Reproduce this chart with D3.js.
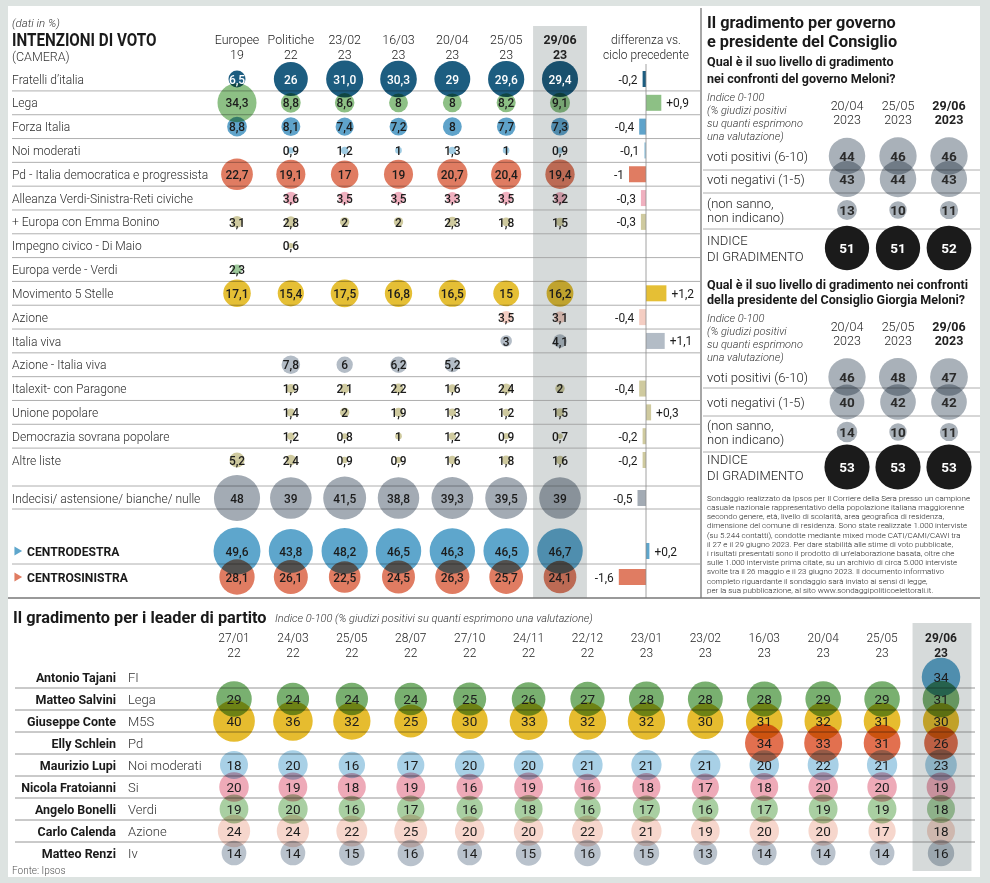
<!DOCTYPE html>
<html lang="it">
<head>
<meta charset="UTF-8">
<title>Intenzioni di voto</title>
<style>
  body { margin: 0; background: #dde3e1; }
  svg { display: block; }
  .mul { mix-blend-mode: multiply; }
</style>
<script src="https://d3js.org/d3.v7.min.js"></script>
</head>
<body>
<svg width="990" height="883"></svg>
<script>
// ---- dati: intenzioni di voto ----
const topCols = ["Europee 19", "Politiche 22", "23/02 23", "16/03 23", "20/04 23", "25/05 23", "29/06 23"];
const parties = ["Fratelli d’italia", "Lega", "Forza Italia", "Noi moderati",
  "Pd - Italia democratica e progressista", "Alleanza Verdi-Sinistra-Reti civiche",
  "+ Europa con Emma Bonino", "Impegno civico - Di Maio", "Europa verde - Verdi",
  "Movimento 5 Stelle", "Azione", "Italia viva", "Azione - Italia viva",
  "Italexit- con Paragone", "Unione popolare", "Democrazia  sovrana popolare", "Altre liste"];
const partyVals = [
  ["6,5", "26", "31,0", "30,3", "29", "29,6", "29,4"],
  ["34,3", "8,8", "8,6", "8", "8", "8,2", "9,1"],
  ["8,8", "8,1", "7,4", "7,2", "8", "7,7", "7,3"],
  [null, "0,9", "1,2", "1", "1,3", "1", "0,9"],
  ["22,7", "19,1", "17", "19", "20,7", "20,4", "19,4"],
  [null, "3,6", "3,5", "3,5", "3,3", "3,5", "3,2"],
  ["3,1", "2,8", "2", "2", "2,3", "1,8", "1,5"],
  [null, "0,6", null, null, null, null, null],
  ["2,3", null, null, null, null, null, null],
  ["17,1", "15,4", "17,5", "16,8", "16,5", "15", "16,2"],
  [null, null, null, null, null, "3,5", "3,1"],
  [null, null, null, null, null, "3", "4,1"],
  [null, "7,8", "6", "6,2", "5,2", null, null],
  [null, "1,9", "2,1", "2,2", "1,6", "2,4", "2"],
  [null, "1,4", "2", "1,9", "1,3", "1,2", "1,5"],
  [null, "1,2", "0,8", "1", "1,2", "0,9", "0,7"],
  ["5,2", "2,4", "0,9", "0,9", "1,6", "1,8", "1,6"]
];
const partyDiff = ["-0,2", "+0,9", "-0,4", "-0,1", "-1", "-0,3", "-0,3", null, null,
  "+1,2", "-0,4", "+1,1", null, "-0,4", "+0,3", "-0,2", "-0,2"];
const sumRows = ["Indecisi/ astensione/ bianche/ nulle", "CENTRODESTRA", "CENTROSINISTRA"];
const sumVals = [
  ["48", "39", "41,5", "38,8", "39,3", "39,5", "39"],
  ["49,6", "43,8", "48,2", "46,5", "46,3", "46,5", "46,7"],
  ["28,1", "26,1", "22,5", "24,5", "26,3", "25,7", "24,1"]
];
const sumDiff = ["-0,5", "+0,2", "-1,6"];

// ---- dati: gradimento governo / presidente ----
const govCols = ["20/04 2023", "25/05 2023", "29/06 2023"];
const govPos = [44, 46, 46], govNeg = [43, 44, 43], govNs = [13, 10, 11], govIdx = [51, 51, 52];
const melPos = [46, 48, 47], melNeg = [40, 42, 42], melNs = [14, 10, 11], melIdx = [53, 53, 53];

// ---- dati: leader ----
const botCols = ["27/01 22", "24/03 22", "25/05 22", "28/07 22", "27/10 22", "24/11 22", "22/12 22",
  "23/01 23", "23/02 23", "16/03 23", "20/04 23", "25/05 23", "29/06 23"];
const leaders = ["Antonio Tajani", "Matteo Salvini", "Giuseppe Conte", "Elly Schlein", "Maurizio Lupi",
  "Nicola Fratoianni", "Angelo Bonelli", "Carlo Calenda", "Matteo Renzi"];
const leaderParty = ["FI", "Lega", "M5S", "Pd", "Noi moderati", "Si", "Verdi", "Azione", "Iv"];
const leaderVals = [
  [null, null, null, null, null, null, null, null, null, null, null, null, 34],
  [29, 24, 24, 24, 25, 26, 27, 28, 28, 28, 29, 29, 31],
  [40, 36, 32, 25, 30, 33, 32, 32, 30, 31, 32, 31, 30],
  [null, null, null, null, null, null, null, null, null, 34, 33, 31, 26],
  [18, 20, 16, 17, 20, 20, 21, 21, 21, 20, 22, 21, 23],
  [20, 19, 18, 19, 16, 19, 16, 18, 17, 18, 20, 20, 19],
  [19, 20, 16, 17, 16, 18, 16, 17, 16, 17, 19, 19, 18],
  [24, 24, 22, 25, 20, 20, 22, 21, 19, 20, 20, 17, 18],
  [14, 14, 15, 16, 14, 15, 16, 15, 13, 14, 14, 14, 16]
];

const noteLines = [
  "Sondaggio realizzato da Ipsos per Il Corriere della Sera presso un campione",
  "casuale nazionale rappresentativo della popolazione italiana maggiorenne",
  "secondo genere, età, livello di scolarità, area geografica di residenza,",
  "dimensione del comune di residenza. Sono state realizzate 1.000 interviste",
  "(su 5.244 contatti), condotte mediante mixed mode CATI/CAMI/CAWI tra",
  "il 27 e il 29 giugno 2023. Per dare stabilità alle stime di voto pubblicate,",
  "i risultati presentati sono il prodotto di un'elaborazione basata, oltre che",
  "sulle 1.000 interviste prima citate, su un archivio di circa 5.000 interviste",
  "svolte tra il 26 maggio e il 23 giugno 2023. Il documento informativo",
  "completo riguardante il sondaggio sarà inviato ai sensi di legge,",
  "per la sua pubblicazione, al sito www.sondaggipoliticoelettorali.it."
];

// colori
const partyColors = ["#1d5d80", "#8dc085", "#5fa3ca", "#9fcbe2", "#e07c62", "#f0b0bf", "#cfca9f",
  "#cfca9f", "#9dc89a", "#e5bf35", "#f4cdc2", "#b3bcc6", "#b3bcc6", "#cfca9f", "#cfca9f", "#cfca9f", "#cfca9f"];
const sumColors = ["#a3abb4", "#5ea6cc", "#e07c62"];
const leaderColors = ["#5ea6cc", "#79b070", "#e6bc2f", "#e2704f", "#a8d0e6", "#eeaab8", "#a9cfa2", "#f6d6cc", "#b9c2cc"];
const BAND = "#d6dada", LINE = "#9a9a9a";
const F = "Roboto, 'Open Sans', sans-serif";

const num = s => +String(s).replace(",", ".");

const svg = d3.select("svg");
svg.append("rect").attr("width", 990).attr("height", 883).attr("fill", "#dde3e1");
svg.append("rect").attr("x", 8).attr("y", 6).attr("width", 972).attr("height", 871).attr("fill", "#fff");

function label(g, x, y, s, o = {}) {
  return g.append("text")
    .attr("transform", `translate(${x},${y}) scale(${o.sx || 1},1)`)
    .attr("text-anchor", o.anchor || "start")
    .attr("dy", "0.35em")
    .attr("font-family", F)
    .attr("font-size", o.size || 13)
    .attr("font-weight", o.weight || 400)
    .attr("font-style", o.italic ? "italic" : null)
    .attr("fill", o.fill || "#222")
    .text(s);
}

// ================= INTENZIONI DI VOTO =================
const gT = svg.append("g");
const xTop = d3.scalePoint().domain(topCols).range([237, 560]);
const yMain = d3.scalePoint().domain(parties).range([79, 460]);
const ySum = d3.scaleOrdinal().domain(sumRows).range([498, 551, 577]);
const yRow = r => parties.includes(r) ? yMain(r) : ySum(r);
const rTop = d3.scaleSqrt().domain([0, 50]).range([0, 3.33 * Math.sqrt(50)]);
const xDiff = d3.scaleLinear().domain([-2, 2]).range([646 - 34, 646 + 34]);

// banda colonna corrente
gT.append("rect")
  .attr("x", xTop(topCols[6]) - xTop.step() / 2).attr("width", xTop.step())
  .attr("y", 26).attr("height", 572).attr("fill", BAND);

// linee di separazione
const sepY = d3.range(parties.length - 1).map(i => (yMain(parties[i]) + yMain(parties[i + 1])) / 2)
  .concat([ySum(sumRows[0]) - 12, ySum(sumRows[0]) + 11, (ySum(sumRows[1]) + ySum(sumRows[2])) / 2]);
gT.selectAll("line.sep").data(sepY).join("line")
  .attr("x1", 12).attr("x2", 700).attr("y1", d => d).attr("y2", d => d)
  .attr("stroke", LINE).attr("stroke-width", 0.8);

// intestazioni
label(gT, 12, 23, "(dati in %)", { size: 11.5, italic: true, weight: 300, fill: "#333" });
label(gT, 12, 40, "INTENZIONI DI VOTO", { size: 17.5, weight: 700, sx: 0.87, fill: "#1a1a1a" });
label(gT, 12, 57, "(CAMERA)", { size: 12.5, weight: 300, fill: "#333" });
topCols.forEach((c, j) => {
  const [a, b] = c.split(" ");
  const bold = j === topCols.length - 1;
  label(gT, xTop(c), 39, a, { anchor: "middle", size: 13.5, weight: bold ? 700 : 300, sx: 0.92, fill: "#222" });
  label(gT, xTop(c), 54, b, { anchor: "middle", size: 13.5, weight: bold ? 700 : 300, sx: 0.92, fill: "#222" });
});
label(gT, 646, 39, "differenza vs.", { anchor: "middle", size: 13, weight: 300, sx: 0.92 });
label(gT, 646, 54, "ciclo precedente", { anchor: "middle", size: 13, weight: 300, sx: 0.92 });

// etichette righe
parties.forEach(p => label(gT, 12, yMain(p), p, { size: 13, weight: 300, sx: 0.93, fill: "#2a2a2a" }));
label(gT, 12, ySum(sumRows[0]), sumRows[0], { size: 13, weight: 300, sx: 0.93, fill: "#2a2a2a" });
[1, 2].forEach(i => {
  label(gT, 27, ySum(sumRows[i]), sumRows[i], { size: 13.5, weight: 700, sx: 0.9, fill: "#1a1a1a" });
  gT.append("path")
    .attr("d", d3.symbol(d3.symbolTriangle, 34)())
    .attr("transform", `translate(17,${ySum(sumRows[i])}) rotate(90)`)
    .attr("fill", sumColors[i]);
});

// bolle
const cells = [];
parties.forEach((p, i) => partyVals[i].forEach((v, j) => {
  if (v != null) cells.push({ row: p, col: topCols[j], s: v, v: num(v), c: partyColors[i], w: i === 0 });
}));
sumRows.forEach((p, i) => sumVals[i].forEach((v, j) => {
  cells.push({ row: p, col: topCols[j], s: v, v: num(v), c: sumColors[i], w: false });
}));
gT.selectAll("circle.b").data(cells).join("circle").attr("class", "mul")
  .attr("cx", d => xTop(d.col)).attr("cy", d => yRow(d.row)).attr("r", d => rTop(d.v))
  .attr("fill", d => d.c);
gT.selectAll("text.v").data(cells).join("text")
  .attr("transform", d => `translate(${xTop(d.col)},${yRow(d.row)}) scale(0.92,1)`)
  .attr("text-anchor", "middle").attr("dy", "0.36em")
  .attr("font-family", F).attr("font-size", 13).attr("font-weight", 500)
  .attr("fill", d => d.w ? "#fff" : "#1c1c1c")
  .text(d => d.s);

// differenze
const diffs = [];
parties.forEach((p, i) => { if (partyDiff[i]) diffs.push({ row: p, s: partyDiff[i], v: num(partyDiff[i]), c: partyColors[i] }); });
sumRows.forEach((p, i) => diffs.push({ row: p, s: sumDiff[i], v: num(sumDiff[i]), c: sumColors[i] }));
gT.selectAll("rect.d").data(diffs).join("rect")
  .attr("x", d => Math.min(xDiff(0), xDiff(d.v))).attr("width", d => Math.abs(xDiff(d.v) - xDiff(0)))
  .attr("y", d => yRow(d.row) - 8).attr("height", 16).attr("fill", d => d.c);
gT.append("line").attr("x1", xDiff(0)).attr("x2", xDiff(0)).attr("y1", 64).attr("y2", 598)
  .attr("stroke", "#8a8a8a").attr("stroke-width", 0.8);
gT.selectAll("text.d").data(diffs).join("text")
  .attr("transform", d => `translate(${d.v < 0 ? xDiff(d.v) - 5 : xDiff(d.v) + 5},${yRow(d.row)}) scale(0.92,1)`)
  .attr("text-anchor", d => d.v < 0 ? "end" : "start").attr("dy", "0.35em")
  .attr("font-family", F).attr("font-size", 13).attr("fill", "#1c1c1c")
  .text(d => d.s);

// divisori
svg.append("line").attr("x1", 701).attr("x2", 701).attr("y1", 8).attr("y2", 598).attr("stroke", "#888").attr("stroke-width", 1.5);
svg.append("line").attr("x1", 8).attr("x2", 980).attr("y1", 598).attr("y2", 598).attr("stroke", "#777").attr("stroke-width", 1.5);

// ================= GRADIMENTO GOVERNO =================
const gR = svg.append("g");
const xR = d3.scalePoint().domain(govCols).range([847, 949]);
const rGrey = d3.scaleSqrt().domain([0, 50]).range([0, 2.75 * Math.sqrt(50)]);
const rBlack = d3.scaleSqrt().domain([0, 50]).range([0, 3.1 * Math.sqrt(50)]);

label(gR, 707, 22, "Il gradimento per governo", { size: 17, weight: 700, sx: 0.96, fill: "#1a1a1a" });
label(gR, 707, 41, "e presidente del Consiglio", { size: 17, weight: 700, sx: 0.96, fill: "#1a1a1a" });

function panel(p) {
  p.q.forEach((s, i) => label(gR, 707, p.qY[i], s, { size: 13.5, weight: 700, sx: 0.93, fill: "#1a1a1a" }));
  ["Indice 0-100", "(% giudizi positivi", "su quanti esprimono", "una valutazione)"]
    .forEach((s, i) => label(gR, 707, p.itY + i * 13, s, { size: 11, italic: true, weight: 300, fill: "#333" }));
  govCols.forEach((c, j) => {
    const [a, b] = c.split(" ");
    const bold = j === govCols.length - 1;
    label(gR, xR(c), p.headY, a, { anchor: "middle", size: 12.5, weight: bold ? 700 : 300 });
    label(gR, xR(c), p.headY + 14, b, { anchor: "middle", size: 12.5, weight: bold ? 700 : 300 });
  });
  p.lines.forEach(y => gR.append("line").attr("x1", 703).attr("x2", 980).attr("y1", y).attr("y2", y)
    .attr("stroke", LINE).attr("stroke-width", 0.8));
  label(gR, 707, p.rowY[0], "voti positivi (6-10)", { size: 13, weight: 300 });
  label(gR, 707, p.rowY[1], "voti negativi (1-5)", { size: 13, weight: 300 });
  label(gR, 707, p.nsY[0], "(non sanno,", { size: 13, weight: 300 });
  label(gR, 707, p.nsY[1], "non indicano)", { size: 13, weight: 300 });
  label(gR, 707, p.idY[0], "INDICE", { size: 13, weight: 300 });
  label(gR, 707, p.idY[1], "DI GRADIMENTO", { size: 13, weight: 300 });
  const pts = [];
  [p.pos, p.neg, p.ns].forEach((arr, k) => arr.forEach((v, j) => pts.push({ col: govCols[j], y: p.rowY[k], v, k })));
  const idx = p.idx.map((v, j) => ({ col: govCols[j], y: p.rowY[3], v }));
  gR.append("g").selectAll("circle").data(pts).join("circle").attr("class", "mul")
    .attr("cx", d => xR(d.col)).attr("cy", d => d.y).attr("r", d => rGrey(d.v)).attr("fill", "#a9b1b9");
  gR.append("g").selectAll("circle").data(idx).join("circle")
    .attr("cx", d => xR(d.col)).attr("cy", d => d.y).attr("r", d => rBlack(d.v)).attr("fill", "#1b1b1b");
  gR.append("g").selectAll("text").data(pts.concat(idx.map(d => ({ ...d, w: true })))).join("text")
    .attr("x", d => xR(d.col)).attr("y", d => d.y).attr("dy", "0.36em").attr("text-anchor", "middle")
    .attr("font-family", F).attr("font-size", 13.5).attr("font-weight", 700)
    .attr("fill", d => d.w ? "#fff" : "#2b2b2b").text(d => d.v);
}
panel({ q: ["Qual è il suo livello di gradimento", "nei confronti del governo Meloni?"], qY: [61, 78],
  itY: 97, headY: 106, lines: [170, 193, 229], rowY: [156, 179, 210, 248], nsY: [203, 217], idY: [240, 256],
  pos: govPos, neg: govNeg, ns: govNs, idx: govIdx });
panel({ q: ["Qual è il suo livello di gradimento nei confronti", "della presidente del Consiglio Giorgia Meloni?"], qY: [284, 299],
  itY: 318, headY: 327, lines: [388, 416, 452], rowY: [377, 402, 432, 467], nsY: [425, 439], idY: [459, 475],
  pos: melPos, neg: melNeg, ns: melNs, idx: melIdx });

gR.selectAll("text.note").data(noteLines).join("text")
  .attr("x", 707).attr("y", (d, i) => 498 + i * 9.2).attr("dy", "0.35em")
  .attr("font-family", F).attr("font-size", 8).attr("font-weight", 300).attr("fill", "#222")
  .text(d => d);

// ================= LEADER =================
const gB = svg.append("g");
const xBot = d3.scalePoint().domain(botCols).range([234, 941]);
const yBot = d3.scalePoint().domain(leaders).range([677, 853]);
const rBot = d3.scaleSqrt().domain([0, 40]).range([0, 3.3 * Math.sqrt(40)]);

gB.append("rect")
  .attr("x", xBot(botCols[12]) - xBot.step() / 2 + 1).attr("width", xBot.step())
  .attr("y", 623).attr("height", 248).attr("fill", BAND);
label(gB, 13, 617, "Il gradimento per i leader di partito", { size: 17, weight: 700, sx: 0.96, fill: "#1a1a1a" });
label(gB, 275, 618, "Indice 0-100 (% giudizi positivi su quanti esprimono una valutazione)", { size: 11, italic: true, weight: 300, fill: "#333" });
botCols.forEach((c, j) => {
  const [a, b] = c.split(" ");
  const bold = j === botCols.length - 1;
  label(gB, xBot(c), 637, a, { anchor: "middle", size: 13, weight: bold ? 700 : 300, sx: 0.92 });
  label(gB, xBot(c), 652, b, { anchor: "middle", size: 13, weight: bold ? 700 : 300, sx: 0.92 });
});
const bSep = d3.range(leaders.length - 1).map(i => (yBot(leaders[i]) + yBot(leaders[i + 1])) / 2);
gB.selectAll("line").data(bSep).join("line")
  .attr("x1", 15).attr("x2", 975).attr("y1", d => d).attr("y2", d => d)
  .attr("stroke", "#7a7a7a").attr("stroke-width", 0.8);
leaders.forEach((l, i) => {
  label(gB, 116, yBot(l), l, { anchor: "end", size: 13, weight: 700, sx: 0.96, fill: "#1a1a1a" });
  label(gB, 128, yBot(l), leaderParty[i], { size: 13, weight: 300, fill: "#333" });
});
const bcells = [];
leaders.forEach((l, i) => leaderVals[i].forEach((v, j) => {
  if (v != null) bcells.push({ row: l, col: botCols[j], v, c: leaderColors[i] });
}));
gB.selectAll("circle").data(bcells).join("circle").attr("class", "mul")
  .attr("cx", d => xBot(d.col)).attr("cy", d => yBot(d.row)).attr("r", d => rBot(d.v)).attr("fill", d => d.c);
gB.selectAll("text.v").data(bcells).join("text")
  .attr("x", d => xBot(d.col)).attr("y", d => yBot(d.row)).attr("dy", "0.36em").attr("text-anchor", "middle")
  .attr("font-family", F).attr("font-size", 13.5).attr("fill", "#1c1c1c").text(d => d.v);
label(gB, 12, 870, "Fonte: Ipsos", { size: 10, weight: 300, fill: "#555" });
</script>
</body>
</html>
